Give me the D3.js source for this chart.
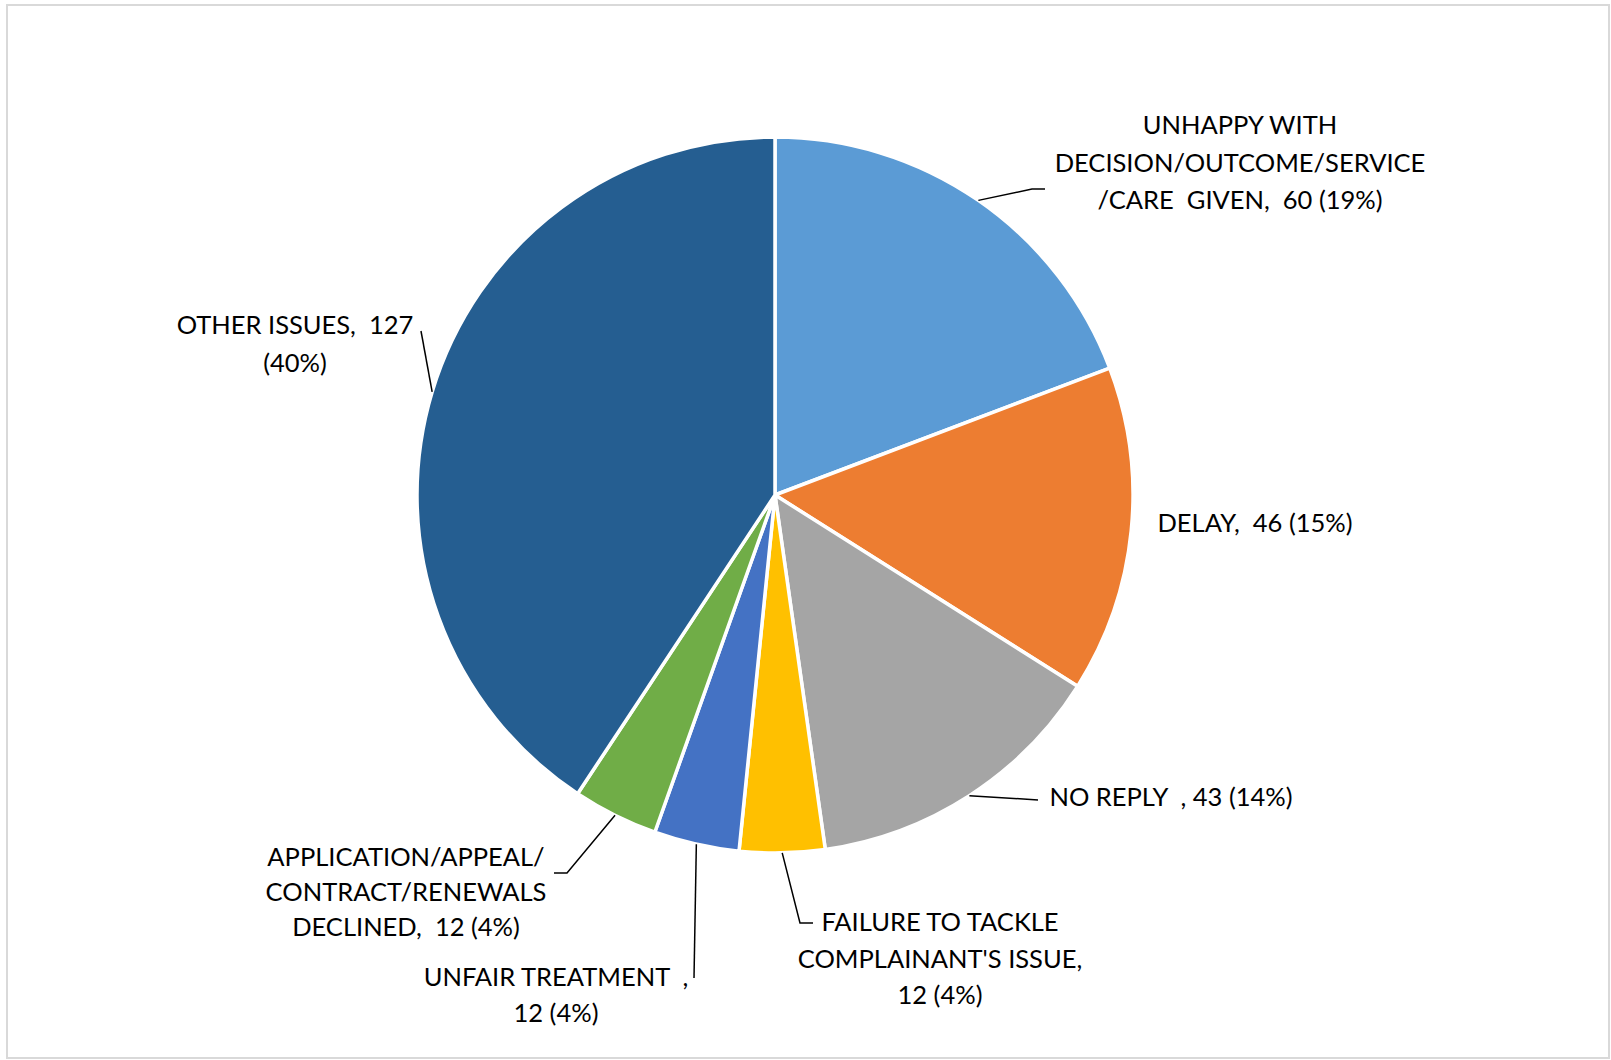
<!DOCTYPE html>
<html>
<head>
<meta charset="utf-8">
<script src="https://cdn.jsdelivr.net/npm/d3@7"></script>
<style>
  html, body { margin: 0; padding: 0; background: #fff; }
  svg { display: block; }
  text { font-family: Lato, "Open Sans", sans-serif; white-space: pre; }
</style>
</head>
<body>
<svg id="chart" width="1611" height="1060"></svg>
<script>
// Complaint categories, clockwise from 12 o'clock
const categories = [
  "UNHAPPY WITH DECISION/OUTCOME/SERVICE /CARE GIVEN",
  "DELAY",
  "NO REPLY",
  "FAILURE TO TACKLE COMPLAINANT'S ISSUE",
  "UNFAIR TREATMENT",
  "APPLICATION/APPEAL/ CONTRACT/RENEWALS DECLINED",
  "OTHER ISSUES"
];
const counts = [60, 46, 43, 12, 12, 12, 127];
const percentLabels = ["19%", "15%", "14%", "4%", "4%", "4%", "40%"];
const sliceColors = ["#5B9BD5", "#ED7D31", "#A5A5A5", "#FFC000", "#4472C4", "#70AD47", "#255E91"];

// Data label text, broken into lines as they are set on the chart
const labelLines = [
  ["UNHAPPY WITH", "DECISION/OUTCOME/SERVICE", "/CARE  GIVEN,  60 (19%)"],
  ["DELAY,  46 (15%)"],
  ["NO REPLY  , 43 (14%)"],
  ["FAILURE TO TACKLE", "COMPLAINANT'S ISSUE,", "12 (4%)"],
  ["UNFAIR TREATMENT  ,", "12 (4%)"],
  ["APPLICATION/APPEAL/", "CONTRACT/RENEWALS", "DECLINED,  12 (4%)"],
  ["OTHER ISSUES,  127", "(40%)"]
];

const data = categories.map((c, i) => ({
  category: c, value: counts[i], pct: percentLabels[i], color: sliceColors[i], lines: labelLines[i]
}));

const svg = d3.select("#chart");

// Chart area frame
svg.append("rect")
  .attr("x", 7).attr("y", 5).attr("width", 1602).attr("height", 1053)
  .attr("fill", "#fff").attr("stroke", "#d9d9d9").attr("stroke-width", 2);

const cx = 775, cy = 495, radius = 358;
const g = svg.append("g").attr("transform", `translate(${cx},${cy})`);

const pie = d3.pie().value(d => d.value).sort(null);
const arcs = pie(data);
const arc = d3.arc().innerRadius(0).outerRadius(radius);
const edgeArc = d3.arc().innerRadius(radius).outerRadius(radius);

g.selectAll("path.slice")
  .data(arcs)
  .join("path")
  .attr("class", "slice")
  .attr("d", arc)
  .attr("fill", d => d.data.color)
  .attr("stroke", "#fff")
  .attr("stroke-width", 3.5)
  .attr("stroke-linejoin", "round");

// Label placement: centre x, centre y of first line, line step, and leader-line bend points
const labelLayout = [
  { x: 1240, y: 125, step: 37.5, leader: [[1032, 189], [1045, 189]] },
  { x: 1255, y: 523, step: 37, leader: null },
  { x: 1171, y: 797, step: 37, leader: [[1038, 800]] },
  { x: 940, y: 922, step: 36.5, leader: [[800, 923], [813, 923]] },
  { x: 556, y: 977, step: 36, leader: [[694, 978]] },
  { x: 406, y: 857, step: 35, leader: [[567, 873], [554, 873]] },
  { x: 295, y: 325, step: 38, leader: [[421, 331]] }
];

const fontSize = 25.5;
const capShift = fontSize * 0.36;

const labels = svg.append("g");
arcs.forEach((a, i) => {
  const L = labelLayout[i];
  if (L.leader) {
    const start = edgeArc.centroid(a);
    const pts = [[start[0] + cx, start[1] + cy], ...L.leader];
    labels.append("path")
      .attr("d", d3.line()(pts))
      .attr("fill", "none")
      .attr("stroke", "#000")
      .attr("stroke-width", 1.5);
  }
  const t = labels.append("text")
    .attr("text-anchor", "middle")
    .attr("font-size", fontSize)
    .attr("fill", "#000");
  a.data.lines.forEach((ln, k) => {
    t.append("tspan")
      .attr("x", L.x)
      .attr("y", L.y + k * L.step + capShift)
      .text(ln);
  });
});
</script>
</body>
</html>
